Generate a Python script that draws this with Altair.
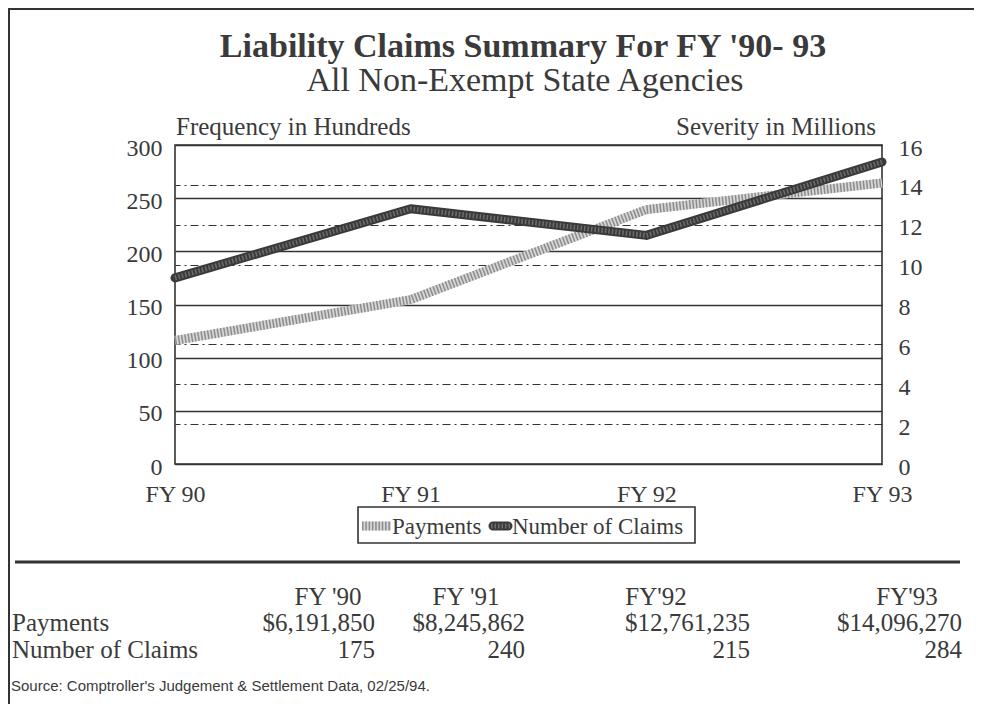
import altair as alt
import pandas as pd

# ---------------- data ----------------
years = ["FY 90", "FY 91", "FY 92", "FY 93"]
table_years = ["FY '90", "FY '91", "FY'92", "FY'93"]
payments = [6191850, 8245862, 12761235, 14096270]   # dollars (right axis, millions)
claims = [175, 240, 215, 284]                         # left axis (hundreds)
left_ticks = [0, 50, 100, 150, 200, 250, 300]
right_ticks = [0, 2, 4, 6, 8, 10, 12, 14, 16]
series_names = ["Payments", "Number of Claims"]

df = pd.DataFrame({
    "year": years,
    "payments_m": [p / 1e6 for p in payments],
    "claims": claims,
})
one = pd.DataFrame({"k": [0]})

# ---------------- style ----------------
FONT = "Liberation Serif"
INK = "#3a3a3a"
PAY_BASE, PAY_DOT = "#d6d6d6", "#8c8c8c"
CLM_BASE, CLM_DOT = "#3a3a3a", "#6e6e6e"
LW = 9

xscale = alt.Scale(type="point", padding=0)
x_axis = alt.Axis(title=None, labelAngle=0, ticks=False, domain=False, grid=False,
                  labelFont=FONT, labelFontSize=24, labelColor=INK, labelPadding=18)
x_main = alt.X("year:N", sort=years, scale=xscale, axis=x_axis)

left_axis = alt.Axis(title=None, orient="left", values=left_ticks, ticks=False, domain=False,
                     grid=True, gridColor="#333333", gridWidth=1.4,
                     labelFont=FONT, labelFontSize=24, labelColor=INK, labelPadding=13,
                     labelOffset=3)
right_axis = alt.Axis(title=None, orient="right", values=right_ticks, ticks=False, domain=False,
                      grid=True, gridColor="#333333", gridWidth=1.2, gridDash=[8, 4, 2, 4],
                      labelFont=FONT, labelFontSize=24, labelColor=INK, labelPadding=16,
                      labelOffset=3)

y_pay = alt.Y("payments_m:Q", scale=alt.Scale(domain=[0, 16]), axis=right_axis)
y_clm = alt.Y("claims:Q", scale=alt.Scale(domain=[0, 300]), axis=left_axis)

base = alt.Chart(df)

pay_group = alt.layer(
    base.mark_line(color=PAY_BASE, strokeWidth=LW).encode(x=x_main, y=y_pay),
    base.mark_line(color=PAY_DOT, strokeWidth=LW, strokeDash=[1.5, 1.8]).encode(x=x_main, y=y_pay),
)

clm_group = alt.layer(
    base.mark_line(color=CLM_BASE, strokeWidth=LW, strokeCap="round", strokeJoin="round").encode(
        x=x_main, y=y_clm),
    base.mark_line(color=CLM_DOT, strokeWidth=5, strokeDash=[1.5, 2]).encode(x=x_main, y=y_clm),
)


def txt(s, x, y, size, weight="normal", align="left", font=FONT, color=INK):
    return alt.Chart(one).mark_text(
        text=s, align=align, baseline="alphabetic", font=font, fontSize=size,
        fontWeight=weight, color=color,
    ).encode(x=alt.value(x), y=alt.value(y))


def hrule(x1, x2, y, width, color="#333333", cap="butt", dash=None):
    kw = dict(color=color, strokeWidth=width, strokeCap=cap)
    if dash:
        kw["strokeDash"] = dash
    return alt.Chart(one).mark_rule(**kw).encode(
        x=alt.value(x1), x2=alt.value(x2), y=alt.value(y))


def vrule(x, y1, y2, width, color="#333333"):
    return alt.Chart(one).mark_rule(color=color, strokeWidth=width).encode(
        x=alt.value(x), y=alt.value(y1), y2=alt.value(y2))


extras = [
    # titles
    txt("Liability Claims Summary For FY '90-  93", 348, -88, 34, weight="bold", align="center"),
    txt("All Non-Exempt State Agencies", 350, -54, 34, align="center"),
    txt("Frequency in Hundreds", 1, -10, 25),
    txt("Severity in Millions", 701, -10, 25, align="right"),
    # outer frame of the figure
    hrule(-167, 799, -136, 2),
    vrule(-166, -136, 570, 2),
    # legend
    alt.Chart(one).mark_rect(fillOpacity=0, stroke="#333333", strokeWidth=1.6).encode(
        x=alt.value(183), x2=alt.value(520), y=alt.value(362), y2=alt.value(398)),
    hrule(187, 216, 381, LW, color=PAY_BASE),
    hrule(187, 216, 381, LW, color=PAY_DOT, dash=[1.5, 1.8]),
    txt(series_names[0], 217, 389, 23),
    hrule(318, 333, 381, LW, color=CLM_BASE, cap="round"),
    hrule(316, 336, 381, 5, color=CLM_DOT, dash=[1.5, 2]),
    txt(series_names[1], 337, 389, 23),
    # separator
    hrule(-160, 785, 417, 3, color="#333333"),
    # table
    txt(series_names[0], -163, 486, 25),
    txt(series_names[1], -163, 513, 25),
    txt("Source: Comptroller's Judgement & Settlement Data, 02/25/94.", -164, 546, 15,
        font="Liberation Sans Narrow, Arial Narrow, Liberation Sans"),
]

header_cx = [153, 291, 481, 732]
value_rx = [200, 350, 575, 787]
for i in range(4):
    extras.append(txt(table_years[i], header_cx[i], 460, 25, align="center"))
    extras.append(txt(f"${payments[i]:,}", value_rx[i], 486, 25, align="right"))
    extras.append(txt(f"{claims[i]}", value_rx[i], 513, 25, align="right"))

chart = alt.layer(pay_group, clm_group, *extras).resolve_scale(y="independent").properties(
    width=707,
    height=319,
    padding={"left": 167, "top": 137, "right": 92, "bottom": 240},
    autosize=alt.AutoSizeParams(type="none"),
    background="white",
).configure_view(stroke="#333333", strokeWidth=1.6)

chart.save("out.html", embed_options={"renderer": "svg", "actions": False})
